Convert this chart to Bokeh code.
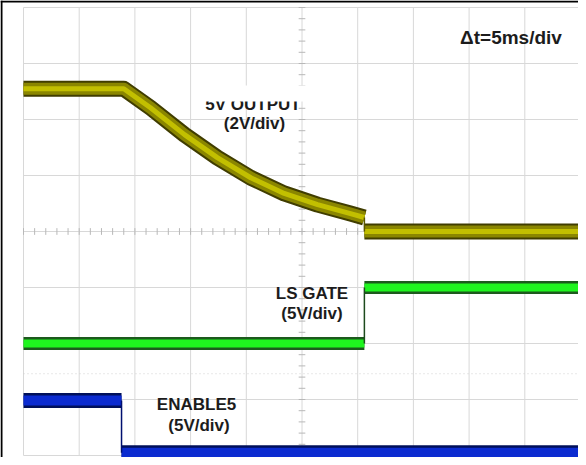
import numpy as np
from bokeh.plotting import figure
from bokeh.models import Range1d
from bokeh.core.properties import value
from bokeh.embed import file_html
from bokeh.resources import INLINE

# ---------------- scope settings ----------------
MS_PER_DIV = 5.0          # time base (ms/div)
N_XDIV = 10
N_YDIV = 8

# ---------------- channel data ----------------
# 5V OUTPUT, 2 V/div, ground marker at 4.0 div
out_time = [0.0, 9.0, 11.4, 14.45, 17.4, 20.4, 23.4, 26.4, 29.35, 30.6, 30.6, 50.0]
out_volts = [5.1, 5.1, 4.42, 3.46, 2.64, 1.92, 1.36, 0.96, 0.64, 0.5, 0.0, 0.0]
OUT_VDIV, OUT_OFFSET = 2.0, 4.0

# LS GATE, 5 V/div, ground marker at 2.0 div
gate_time = [0.0, 30.6, 30.6, 50.0]
gate_volts = [0.0, 0.0, 5.0, 5.0]
GATE_VDIV, GATE_OFFSET = 5.0, 2.0

# ENABLE5, 5 V/div, ground marker at 0.05 div
en_time = [0.0, 8.8, 8.8, 50.0]
en_volts = [4.65, 4.65, 0.0, 0.0]
EN_VDIV, EN_OFFSET = 5.0, 0.05

# ---------------- geometry ----------------
W, H = 578, 457
PX_PER_DIV_X = 55.7
PX_PER_DIV_Y = 56.0
GRID_LEFT_PX = 23      # from figure left
GRID_TOP_PX = 7        # from figure top
ms_per_px = MS_PER_DIV / PX_PER_DIV_X
div_per_px = 1.0 / PX_PER_DIV_Y
x0 = -GRID_LEFT_PX * ms_per_px
x1 = x0 + W * ms_per_px
y1 = N_YDIV + GRID_TOP_PX * div_per_px
y0 = y1 - H * div_per_px

p = figure(width=W, height=H, output_backend="svg", toolbar_location=None,
           x_axis_type=None, y_axis_type=None, min_border=0,
           x_range=Range1d(x0, x1), y_range=Range1d(y0, y1))
p.grid.visible = False
p.outline_line_color = None
p.background_fill_color = "white"
p.border_fill_color = "white"

# ---------------- graticule ----------------
tmax = N_XDIV * MS_PER_DIV
gx = [i * MS_PER_DIV for i in range(N_XDIV + 1)]
gy = list(range(N_YDIV + 1))
p.multi_line(xs=[[t, t] for t in gx], ys=[[0, N_YDIV]] * len(gx), line_color="#d8d8d8", line_width=1)
p.multi_line(xs=[[0, tmax]] * len(gy), ys=[[v, v] for v in gy], line_color="#d8d8d8", line_width=1)
# faint dotted row
p.line([0, tmax], [1.46, 1.46], line_color="#d0d0d0", line_width=1, line_dash="1 3")
# centre tick marks
cx = tmax / 2
cy = N_YDIV / 2
tt = np.arange(0, tmax + 0.01, MS_PER_DIV / 5)
p.multi_line(xs=[[t, t] for t in tt], ys=[[cy - 0.06, cy + 0.06]] * len(tt), line_color="#b8b8b8", line_width=1)
vv = np.arange(0, N_YDIV + 0.01, 0.2)
p.multi_line(xs=[[cx - 0.3, cx + 0.3]] * len(vv), ys=[[v, v] for v in vv], line_color="#b8b8b8", line_width=1)

# outer black border (left and top)
p.line([x0 + ms_per_px, x0 + ms_per_px], [y0, y1], line_color="black", line_width=2)
p.line([x0, x1], [y1 - div_per_px, y1 - div_per_px], line_color="black", line_width=2)


# ---------------- traces ----------------
def to_div(volts, vdiv, off):
    return [v / vdiv + off for v in volts]


def split(ts, ys):
    runs, edges = [], []
    ct, cy_ = [ts[0]], [ys[0]]
    for i in range(1, len(ts)):
        if ts[i] == ts[i - 1]:
            runs.append((ct, cy_))
            edges.append(([ts[i - 1], ts[i]], [ys[i - 1], ys[i]]))
            ct, cy_ = [ts[i]], [ys[i]]
        else:
            ct.append(ts[i])
            cy_.append(ys[i])
    runs.append((ct, cy_))
    return runs, edges


def draw_trace(ts, ys, layers, edge_color):
    runs, edges = split(ts, ys)
    for w, c in layers:
        p.multi_line(xs=[r[0] for r in runs], ys=[r[1] for r in runs], line_color=c,
                     line_width=w, line_join="round", line_cap="butt")
    if edges:
        p.multi_line(xs=[e[0] for e in edges], ys=[e[1] for e in edges], line_color=edge_color,
                     line_width=1.5)


draw_trace(out_time, to_div(out_volts, OUT_VDIV, OUT_OFFSET),
           [(16, "#403d00"), (12, "#8a8600"), (5, "#c2bf00")], "#5a5700")
draw_trace(gate_time, to_div(gate_volts, GATE_VDIV, GATE_OFFSET),
           [(13, "#1d5a1d"), (8, "#1ff51f")], "#1d4a1d")
draw_trace(en_time, to_div(en_volts, EN_VDIV, EN_OFFSET),
           [(15, "#00105a"), (10, "#0b2bd0")], "#001070")


# ---------------- labels ----------------
TEXT_SHIFT = 6   # px, rendered baseline sits lower than the nominal one


def px_to_t(px):
    return (px - 31) * ms_per_px


def py_to_v(py):
    return (463 - py) * div_per_px


FONT = value("Liberation Sans")
TXT = "#1c1c1c"


def label(txt, px, py, size="17px"):
    p.text(x=[px_to_t(px)], y=[py_to_v(py - TEXT_SHIFT)], text=[txt], text_font=FONT,
           text_font_style="bold", text_font_size=size, text_color=TXT, text_align="center",
           text_baseline="alphabetic")


label("5V OUTPUT", 260.5, 118)
# the top of "5V OUTPUT" is hidden in the capture
p.quad(left=[px_to_t(205)], right=[px_to_t(318)], bottom=[py_to_v(109)], top=[py_to_v(93)],
       fill_color="white", line_color=None)
label("(2V/div)", 262, 136.5)
label("LS GATE", 319.5, 307)
label("(5V/div)", 319.5, 326.5)
label("ENABLE5", 204, 418)
label("(5V/div)", 206.5, 438.5)
label("\u0394t=5ms/div", 518.5, 51, size="19px")

open("out.html", "w").write(file_html(p, INLINE))
